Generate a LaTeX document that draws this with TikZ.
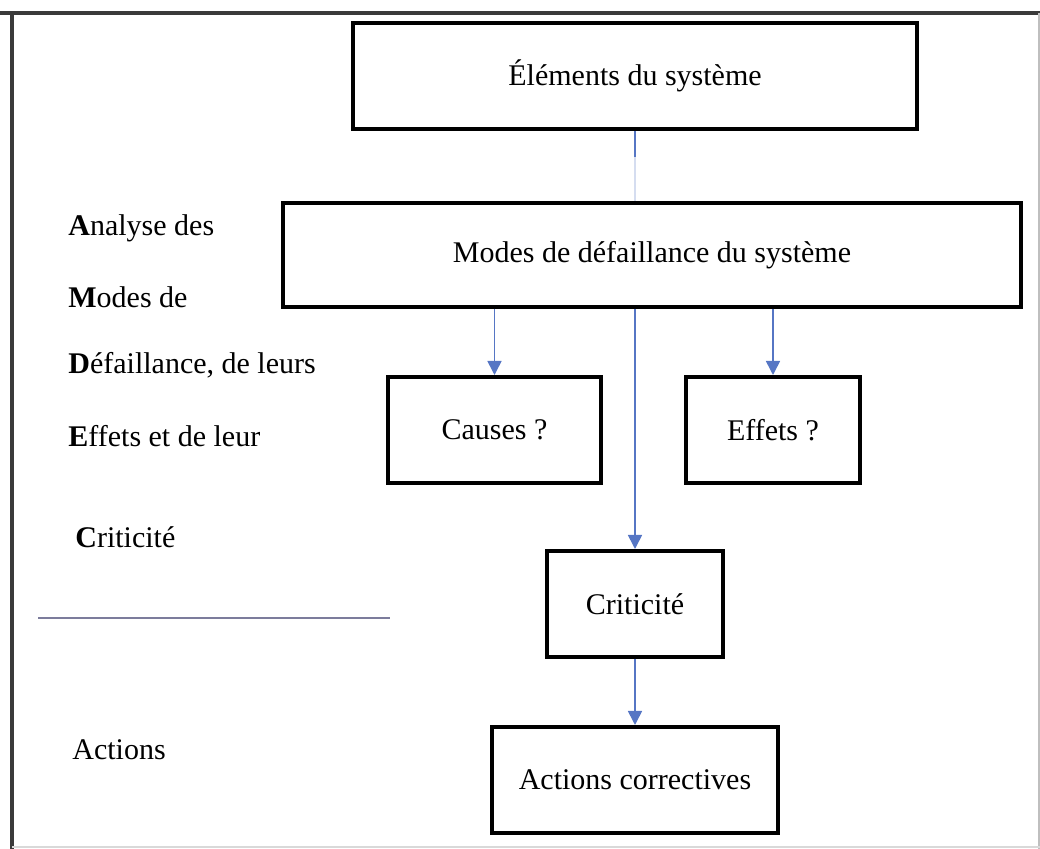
\documentclass[tikz,border=0pt]{standalone}
\usepackage{fontspec}
\setmainfont{Liberation Serif}
\usetikzlibrary{arrows.meta}
\definecolor{flowblue}{HTML}{5676C4}
\definecolor{framegray}{HTML}{3A3A3A}
\definecolor{rulegray}{HTML}{7C7C9C}
\begin{document}
\begin{tikzpicture}[x=0.5pt,y=-0.5pt,
  box/.style={draw=black,line width=2pt,inner sep=0pt,font=\fontsize{15}{18}\selectfont},
  sidelabel/.style={anchor=west,inner sep=0pt,font=\fontsize{15}{18}\selectfont},
  flow/.style={draw=flowblue,line width=0.8pt,-{Triangle[length=7pt,width=7pt]}},
  link/.style={draw=flowblue,line width=0.8pt}]
\useasboundingbox (0,0) rectangle (1040,849);
% frame
\draw[framegray,line width=1.6pt] (0,13) -- (1040,13);
\draw[framegray,line width=1.6pt] (12,13) -- (12,849);
\draw[black!25,line width=0.6pt] (1039,13) -- (1039,849);
\draw[black!15,line width=0.6pt] (12,847) -- (1040,847);

% boxes
\node[box,minimum width=282pt,minimum height=53pt] (elem) at (635,76) {Éléments du système};
\node[box,minimum width=369pt,minimum height=52pt] (modes) at (652,255) {Modes de défaillance du système};
\node[box,minimum width=106.5pt,minimum height=53pt] (causes) at (494.5,430) {Causes ?};
\node[box,minimum width=87pt,minimum height=53pt] (effets) at (773,430) {Effets ?};
\node[box,minimum width=88pt,minimum height=53pt] (crit) at (635,604) {Criticité};
\node[box,minimum width=143pt,minimum height=53pt] (actions) at (635,780) {Actions correctives};

% connectors
\coordinate (fade) at ([yshift=-13pt]elem.south);
\draw[link] (elem.south) -- (fade);
\draw[flowblue!25,line width=0.6pt] (fade) -- (elem.south |- modes.north);
\draw[flow] (causes.north |- modes.south) -- (causes.north);
\draw[flow] (effets.north |- modes.south) -- (effets.north);
\draw[flow] (crit.north |- modes.south) -- (crit.north);
\draw[flow] (crit.south) -- (actions.north);

% side labels
\node[sidelabel] (l1) at (68,228) {\textbf{A}nalyse des};
\node[sidelabel] (l2) at (68,297) {\textbf{M}odes de};
\node[sidelabel] (l3) at (68,365) {\textbf{D}éfaillance, de leurs};
\node[sidelabel] (l4) at (68,436) {\textbf{E}ffets et de leur};
\node[sidelabel] (l5) at (75,537) {\textbf{C}riticité};
\draw[rulegray,line width=1pt] (38,618) -- (390,618);
\node[sidelabel] (l6) at (72,750) {Actions};
\end{tikzpicture}
\end{document}
